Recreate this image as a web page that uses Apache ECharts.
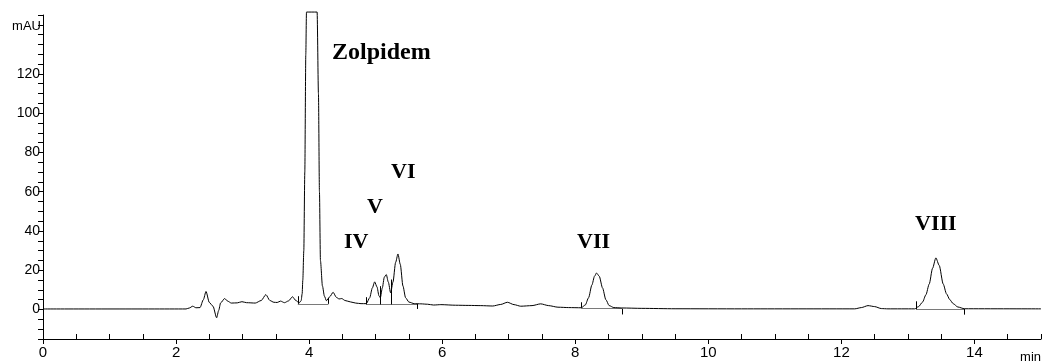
<!DOCTYPE html>
<html>
<head>
<meta charset="utf-8">
<script src="https://cdn.jsdelivr.net/npm/echarts@6/dist/echarts.min.js"></script>
<style>
  html, body { margin: 0; padding: 0; background: #fff; }
  #chart { width: 1047px; height: 364px; }
</style>
</head>
<body>
<div id="chart"></div>
<script>
// Retention time (min) and detector response (mAU) of the chromatogram trace
const timeMin = [
  0, 2.15, 2.2, 2.25, 2.3, 2.36, 2.41, 2.45, 2.5, 2.555, 2.61, 2.64, 2.67, 2.73, 2.78, 2.83,
  2.92, 2.99, 3.06, 3.19, 3.28, 3.35, 3.41, 3.47, 3.52, 3.57, 3.63, 3.69, 3.75, 3.8, 3.85,
  3.88, 3.895, 3.905, 3.92, 3.935, 3.95, 3.96, 4.12, 4.14, 4.155, 4.17, 4.2, 4.23, 4.26,
  4.31, 4.36, 4.41, 4.45, 4.49, 4.54, 4.62, 4.7, 4.78, 4.86, 4.91, 4.95, 4.985, 5.02, 5.05,
  5.07, 5.1, 5.13, 5.16, 5.19, 5.225, 5.26, 5.3, 5.335, 5.37, 5.41, 5.45, 5.5, 5.58, 5.68,
  5.78, 5.87, 5.98, 6.2, 6.4, 6.58, 6.76, 6.88, 6.98, 7.08, 7.18, 7.35, 7.48, 7.6, 7.74,
  7.9, 8.09, 8.15, 8.2, 8.25, 8.29, 8.32, 8.36, 8.41, 8.46, 8.51, 8.58, 8.7, 9.0, 9.5,
  10.5, 12.2, 12.3, 12.4, 12.5, 12.6, 12.7, 13.1, 13.16, 13.22, 13.27, 13.32, 13.37, 13.42,
  13.47, 13.53, 13.58, 13.63, 13.68, 13.75, 13.85, 15
];
const absorbance = [
  0.3, 0.3, 0.8, 1.7, 0.9, 1.0, 5, 9.2, 3.6, 1.7, -4.2, -0.5, 3.4, 5.6, 4.2, 3.3,
  3.4, 4.0, 3.5, 3.3, 4.6, 7.6, 4.6, 3.7, 3.6, 4.3, 3.5, 4.4, 6.5, 4.6, 3.4,
  4.5, 8, 15, 30, 70, 130, 151.5, 151.5, 110, 60, 25, 12, 6.8, 4.5,
  6.5, 8.8, 6.2, 5.4, 5.6, 4.6, 3.9, 3.3, 3.0, 3.0, 6, 11, 14.1, 11.5, 7,
  6, 11, 16.5, 17.8, 14, 8.5, 14, 24, 28.3, 23, 12, 6, 3.8, 3.0, 2.9,
  2.7, 2.3, 2.5, 2.2, 2.1, 2.0, 1.8, 2.6, 3.7, 2.5, 1.7, 2.0, 2.9, 2.0, 1.2,
  1.0, 0.9, 2.3, 6, 12.5, 17, 18.6, 17, 11, 5, 2, 1.0, 0.8, 0.6, 0.4,
  0.35, 0.35, 1.0, 2.0, 1.5, 0.5, 0.35, 0.35, 1.5, 3.8, 7.5, 13, 21, 26.3,
  22.5, 13, 8, 5, 3, 1.3, 0.4, 0.35
];

// Integration baselines drawn under the integrated peaks: [t1, y1, t2, y2]
const integrationBaselines = [
  [3.83, 2.9, 4.29, 2.9],
  [4.86, 2.6, 5.63, 2.6],
  [8.09, 0.9, 8.71, 0.8],
  [13.12, 0.3, 13.85, 0.35]
];
// Peak start / end / split marks: [t, yFrom, yTo]
const peakMarks = [
  [3.83, 2.9, 6.8], [4.29, 2.9, 6.0],
  [4.86, 2.6, 6.3], [5.07, 2.6, 11.9], [5.24, 2.6, 15.3], [5.63, 3.0, 0.3],
  [8.09, 0.9, 3.7], [8.71, 0.3, -2.5],
  [13.12, 0.2, 4.2], [13.85, 0.4, -2.6]
];

// Peak names
const peakNames = ['Zolpidem', 'IV', 'V', 'VI', 'VII', 'VIII'];

// Tick labels
const xLabelValues = [0, 2, 4, 6, 8, 10, 12, 14];
const xMinorTicks = [0.5, 1, 1.5, 2.5, 3, 3.5, 4.5, 5, 5.5, 6.5, 7, 7.5, 8.5, 9, 9.5,
  10.5, 11, 11.5, 12.5, 13, 13.5, 14.5, 15];
const yLabelValues = [0, 20, 40, 60, 80, 100, 120];
const xUnit = 'min';
const yUnit = 'mAU';

const trace = timeMin.map((t, i) => [t, absorbance[i]]);

// Pixel placement of the peak names (left edge, vertical centre of capitals)
const nameLayout = [
  { x: 332, y: 53, size: 24 },
  { x: 344, y: 242, size: 22 },
  { x: 367, y: 207, size: 22 },
  { x: 391, y: 172, size: 22 },
  { x: 577, y: 242, size: 22 },
  { x: 915, y: 224, size: 22 }
];

const sansFont = '"Liberation Sans", Arial, sans-serif';
const serifFont = '"Liberation Serif", "Times New Roman", serif';

const chart = echarts.init(document.getElementById('chart'), null, { renderer: 'canvas' });

const lineSegments = integrationBaselines.map(s => ({ coords: [[s[0], s[1]], [s[2], s[3]]] }));
const markSegments = peakMarks.map(m => ({ coords: [[m[0], m[1]], [m[0], m[2]]] }));

chart.setOption({
  animation: false,
  backgroundColor: '#fff',
  grid: { left: 43, right: 6, top: 15, bottom: 25, containLabel: false },
  xAxis: [
    {
      type: 'value', min: 0, max: 15, interval: 2, position: 'bottom',
      axisLine: { show: true, onZero: false, lineStyle: { color: '#000', width: 1 } },
      axisTick: { show: true, length: 5, lineStyle: { color: '#000', width: 1 }, customValues: xLabelValues },
      axisLabel: {
        color: '#000', fontSize: 15, fontFamily: sansFont, margin: 6,
        customValues: xLabelValues,
        formatter: v => (xLabelValues.includes(v) ? String(v) : '')
      },
      splitLine: { show: false }
    },
    {
      type: 'value', min: 0, max: 15, interval: 0.5, position: 'bottom',
      axisLine: { show: false, onZero: false },
      axisTick: { show: true, inside: true, length: 5, lineStyle: { color: '#000', width: 1 }, customValues: xMinorTicks },
      axisLabel: { show: false },
      splitLine: { show: false }
    }
  ],
  yAxis: {
    type: 'value', min: -15, max: 150, interval: 5,
    axisLine: { show: true, onZero: false, lineStyle: { color: '#000', width: 1 } },
    axisTick: { show: true, length: 5, lineStyle: { color: '#000', width: 1 } },
    axisLabel: {
      color: '#000', fontSize: 14, fontFamily: sansFont, margin: 3,
      formatter: v => (yLabelValues.includes(v) ? String(v) : '')
    },
    splitLine: { show: false }
  },
  series: [
    {
      type: 'lines', coordinateSystem: 'cartesian2d', xAxisIndex: 0, yAxisIndex: 0,
      data: lineSegments, silent: true,
      lineStyle: { color: '#7a7a7a', width: 1, opacity: 1 }
    },
    {
      type: 'lines', coordinateSystem: 'cartesian2d', xAxisIndex: 0, yAxisIndex: 0,
      data: markSegments, silent: true,
      lineStyle: { color: '#000', width: 1, opacity: 1 }
    },
    {
      type: 'line', xAxisIndex: 0, yAxisIndex: 0,
      data: trace, showSymbol: false, clip: false,
      smooth: 0.25, smoothMonotone: 'x',
      lineStyle: { color: '#000', width: 1 }
    }
  ],
  graphic: [
    {
      type: 'text', x: 41, y: 26,
      style: { text: yUnit, fill: '#000', font: '13px ' + sansFont, textAlign: 'right', textVerticalAlign: 'middle' }
    },
    {
      type: 'text', x: 1041, y: 357,
      style: { text: xUnit, fill: '#000', font: '13px ' + sansFont, textAlign: 'right', textVerticalAlign: 'middle' }
    }
  ].concat(peakNames.map((name, i) => ({
    type: 'text', x: nameLayout[i].x, y: nameLayout[i].y,
    style: {
      text: name, fill: '#000',
      font: 'bold ' + nameLayout[i].size + 'px ' + serifFont,
      textAlign: 'left', textVerticalAlign: 'middle'
    }
  })))
});
</script>
</body>
</html>
